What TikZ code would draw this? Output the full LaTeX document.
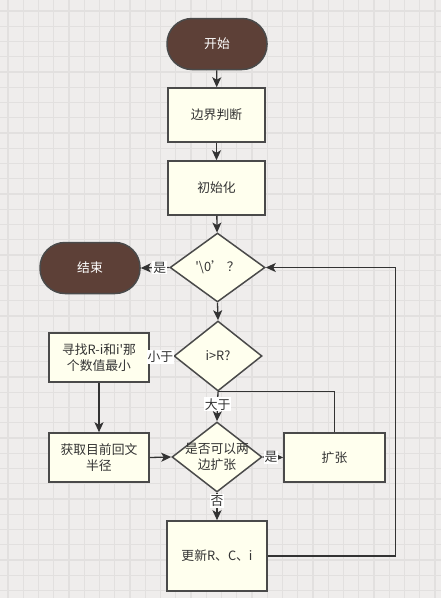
\documentclass[tikz,border=0pt]{standalone}
\usepackage{fontspec}
\newfontfamily\cjk{Noto Sans CJK SC}
\usetikzlibrary{shapes.geometric,arrows.meta}
\definecolor{paper}{HTML}{EFEDEC}
\definecolor{gridline}{HTML}{E2E0DF}
\definecolor{boxfill}{HTML}{FFFFEE}
\definecolor{termfill}{HTML}{5D4037}
\definecolor{edge}{HTML}{4A4A4A}
\definecolor{ink}{HTML}{333333}
\tikzset{
  base/.style={draw=edge, line width=1.5pt, inner sep=0pt, text=ink,
    font=\cjk\fontsize{12.8}{16}\selectfont, align=center},
  term/.style={base, rectangle, rounded corners=25pt, fill=termfill,
    text=white, minimum width=100pt, minimum height=51pt},
  stepbox/.style={base, rectangle, fill=boxfill, minimum width=100pt, minimum height=49pt},
  decision/.style={base, diamond, fill=boxfill},
  txt/.style={inner sep=0pt, text=ink, font=\cjk\fontsize{12.8}{16}\selectfont, align=center},
  conn/.style={draw=ink, line width=1.3pt, -{Stealth[length=10pt,width=9pt,inset=2.5pt]}},
  plain/.style={draw=ink, line width=1.3pt},
  tag/.style={fill=white, inner sep=1pt, text=ink, font=\cjk\fontsize{12.8}{15}\selectfont}
}
\begin{document}
\begin{tikzpicture}[x=1pt, y=-1pt]
  % paper and grid
  \fill[paper] (0,0) rectangle (441,598);
  \useasboundingbox (0,0) rectangle (441,598);
  \foreach \k in {0,...,28} \draw[gridline, line width=1.2pt] (8+15.25*\k,0) -- (8+15.25*\k,598);
  \foreach \k in {0,...,38} \draw[gridline, line width=1.2pt] (0,11+15.25*\k) -- (441,11+15.25*\k);

  % nodes
  \node[term] (start) at (217,44) {开始};
  \node[stepbox, minimum width=97pt, minimum height=54pt] (edge) at (216.5,115) {边界判断};
  \node[stepbox, minimum width=97pt, minimum height=54pt] (init) at (216.5,188) {初始化};
  \node[decision, minimum width=95pt, minimum height=69pt] (q1) at (217.5,267.5) {};
  \node[txt] (q1t) at (q1) {'\textbackslash0’ ？};
  \node[term] (stop) at (90,268) {结束};
  \node[decision, minimum width=88pt, minimum height=70pt] (q2) at (218,356) {};
  \node[txt] (q2t) at (q2) {i>R?};
  \node[stepbox] (find) at (99,357.5) {寻找R-i和i'那\\个数值最小};
  \node[stepbox] (rad) at (99,457.5) {获取目前回文\\半径};
  \node[decision, minimum width=90pt, minimum height=70pt] (q3) at (217,457) {};
  \node[txt] (q3t) at (q3) {是否可以两\\边扩张};
  \node[stepbox, minimum width=101pt] (grow) at (334.5,457.5) {扩张};
  \node[stepbox, minimum width=100pt, minimum height=70pt] (upd) at (217,556) {更新R、C、i};

  % connectors
  \draw[conn] (start) -- (edge);
  \draw[conn] (edge) -- (init);
  \draw[conn] (init) -- (q1);
  \draw[conn] (q1.west) -- node[tag, pos=0.33] (l1) {是} (stop.east);
  \draw[conn] (q1.south) -- (q2.north);
  \draw[conn] (q2.west) -- node[tag, pos=0.55] (l2) {小于} (find.east);
  \draw[plain] (grow.north) |- (q2.south);
  \draw[conn] (q2.south) -- node[tag, pos=0.42] (l3) {大于} (q3.north);
  \draw[conn] (find) -- (rad);
  \draw[conn] (rad.east) -- (q3.west);
  \draw[conn] (q3.east) -- node[tag, pos=0.4] (l4) {是} (grow.west);
  \draw[conn] (q3.south) -- node[tag, pos=0.3] (l5) {否} (upd.north);
  \draw[conn] (upd.east) -- ++(128,0) |- (q1.east);
\end{tikzpicture}
\end{document}
